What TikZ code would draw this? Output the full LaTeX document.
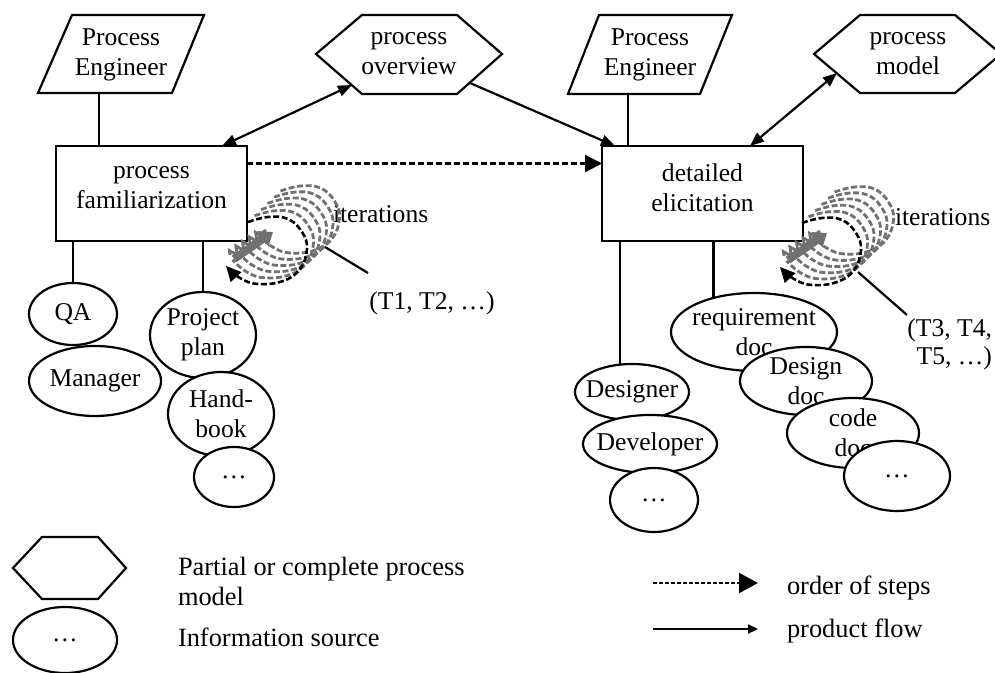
\documentclass[tikz,border=0pt]{standalone}
\usepackage{fontspec}
\setmainfont{Liberation Serif}
\usetikzlibrary{arrows.meta,shapes.geometric,decorations.pathmorphing,calc}

\tikzset{
  % coil of repeated passes, with the step's return arrow
  iterloop/.pic={
    \foreach \k in {5,4,3,2,1}
      \draw[grayloop, shift={(6.5*\k,-6.2*\k)}] plot[smooth, tension=0.7]
        coordinates {(0,0) (20,-5) (40,-3) (54,10) (59,27) (52,47) (35,59) (10,62) (-8,56) (-22,44)};
    \draw[blackloop, -{Triangle[length=7.5pt,width=7pt]}] plot[smooth, tension=0.7]
        coordinates {(0,0) (20,-5) (40,-3) (54,10) (59,27) (52,47) (35,59) (10,62) (-8,56) (-22,44)};
    \draw[gray!60!black!80, line width=4pt, -{Triangle[length=6pt,width=9pt]}] (-14,37) -- (25,10);
    \draw[gray!60!black!80, line width=1.4pt, decorate,
          decoration={zigzag, amplitude=2pt, segment length=4pt}] (-18,33) -- (18,8);
  }
}

\begin{document}
\begin{tikzpicture}[x=0.5pt, y=-0.5pt,
  every node/.style={font=\fontsize{12.8pt}{15pt}\selectfont, inner sep=0pt, outer sep=0pt, align=center},
  legendtext/.style={font=\fontsize{13.2pt}{15pt}\selectfont, align=left},
  shapeline/.style={draw, line width=1.1pt, line join=miter},
  stepbox/.style={shapeline, rectangle, fill=white, minimum width=#1, minimum height=47.5pt},
  src/.style 2 args={shapeline, ellipse, fill=white, minimum width=#1, minimum height=#2},
  conn/.style={line width=1.1pt},
  flow/.style={line width=1.1pt, -{Triangle[length=7pt,width=5.5pt]}},
  bothflow/.style={line width=1.1pt, {Triangle[length=7pt,width=5.5pt]}-{Triangle[length=7pt,width=5.5pt]}},
  order/.style={line width=1.1pt, dash pattern=on 3pt off 1.5pt, -{Triangle[length=8.5pt,width=8.5pt]}},
  grayloop/.style={draw=gray!60!black!80, line width=1.4pt, dash pattern=on 3pt off 1.3pt},
  blackloop/.style={draw=black, line width=1.3pt, dash pattern=on 3pt off 1.3pt},
]
\useasboundingbox (0,0) rectangle (995,673);

% ---------- actors (parallelograms) ----------
\draw[shapeline] (72,15) -- (204,15) -- (172,93) -- (38,93) -- cycle;
\node (pe1) at (121,55) {Process\\Engineer};
\coordinate (pe1-b) at (99,93);
\draw[shapeline] (599,15) -- (732,15) -- (700,94) -- (568,94) -- cycle;
\node (pe2) at (650,55) {Process\\Engineer};
\coordinate (pe2-b) at (628,94);

% ---------- process models (hexagons) ----------
\draw[shapeline] (316,54) -- (362,15) -- (457,15) -- (502,54) -- (457,94) -- (362,94) -- cycle;
\node (ov) at (409,54) {process\\overview};
\coordinate (ov-sw) at (352,85);
\coordinate (ov-se) at (470,83);
\draw[shapeline] (814,54) -- (860,15) -- (955,15) -- (1001,54) -- (955,93) -- (860,93) -- cycle;
\node (pm) at (908,54) {process\\model};
\coordinate (pm-sw) at (837,73);

% ---------- steps ----------
\node[stepbox=95.5pt, label={[yshift=2.75pt]center:process\\familiarization}] (fam) at (151.5,193.5) {};
\node[stepbox=100.5pt, label={[yshift=2.75pt]center:detailed\\elicitation}] (det) at (702.5,193.5) {};

\draw[conn] (pe1-b) -- (fam.north -| pe1-b);
\draw[conn] (pe2-b) -- (det.north -| pe2-b);

% ---------- flows between steps and models ----------
\draw[bothflow] ([xshift=-12.5pt]fam.north east) -- (ov-sw);
\draw[flow] (ov-se) -- ([xshift=6.5pt]det.north west);
\draw[order] ([yshift=15pt]fam.east) -- ([yshift=15pt]det.west);
\draw[bothflow] ([xshift=-26.5pt]det.north east) -- (pm-sw);

% ---------- information sources, first step ----------
\node[src={44pt}{31pt}, label={center:QA}] (qa) at (73,314) {};
\node[src={66pt}{35pt}, label={center:Manager}] (mgr) at (95,381) {};
\node[src={53pt}{43pt}, label={center:Project\\plan}] (pp) at (203,335) {};
\node[src={53pt}{42pt}, label={center:Hand-\\book}] (hb) at (221,414) {};
\node[src={40pt}{30pt}, label={center:…}] (more1) at (234,477) {};
\draw[conn] (fam.south -| qa.north) -- (qa.north);
\draw[conn] (fam.south -| pp.north) -- (pp.north);

% ---------- information sources, second step ----------
\node[src={83pt}{39pt}, label={center:requirement\\doc}] (req) at (754,332) {};
\node[src={66pt}{34pt}, label={center:Design\\doc}] (ddoc) at (806,381) {};
\node[src={66pt}{35pt}, label={center:code\\doc}] (cdoc) at (853,433) {};
\node[src={53pt}{35pt}, label={center:…}] (more2) at (897,476) {};
\node[src={57pt}{28pt}, label={center:Designer}] (dsg) at (632,392) {};
\node[src={67pt}{29pt}, label={center:Developer}] (dev) at (650,444) {};
\node[src={44pt}{32pt}, label={center:…}] (more3) at (654,500) {};
\draw[conn] (det.south -| dsg.114) -- (dsg.114);
\draw[conn] (det.south -| req.140) -- (req.140);

% ---------- iterations ----------
\node[anchor=west] (it1) at (333,214) {iterations};
\node (t12) at (432,303) {(T1, T2, …)};
\pic at (248,222) {iterloop};
\coordinate (it1-p) at (325,247);
\coordinate (it1-q) at (368,273);
\draw[conn] (it1-p) -- (it1-q);

\node[anchor=west] (it2) at (895,217) {iterations};
\node[anchor=north east, font=\fontsize{12.8pt}{14pt}\selectfont, align=right] (t345) at (992,319) {(T3, T4,\\T5, …)};
\pic at (802,223) {iterloop};
\coordinate (it2-p) at (858,272);
\coordinate (it2-q) at (907,315);
\draw[conn] (it2-p) -- (it2-q);

% ---------- legend ----------
\draw[shapeline] (13,568) -- (42,537) -- (98,537) -- (126,568) -- (98,599) -- (42,599) -- cycle;
\node[legendtext, anchor=north west] (lg1) at (178,557) {Partial or complete process\\model};
\node[src={52pt}{33pt}, label={center:…}] (lgsrc) at (65,640) {};
\node[legendtext, anchor=base west] (lg2) at (178,646) {Information source};

\coordinate (lo-a) at (653,583);
\coordinate (lo-b) at (758,583);
\draw[line width=1.1pt, dash pattern=on 2pt off 1pt, -{Triangle[length=9.5pt,width=10pt]}] (lo-a) -- (lo-b);
\node[legendtext, anchor=base west] (lg3) at (787,594) {order of steps};
\coordinate (lf-a) at (653,629);
\coordinate (lf-b) at (758,629);
\draw[line width=1.1pt, -{Triangle[length=5pt,width=4.5pt]}] (lf-a) -- (lf-b);
\node[legendtext, anchor=base west] (lg4) at (787,637) {product flow};
\end{tikzpicture}
\end{document}
